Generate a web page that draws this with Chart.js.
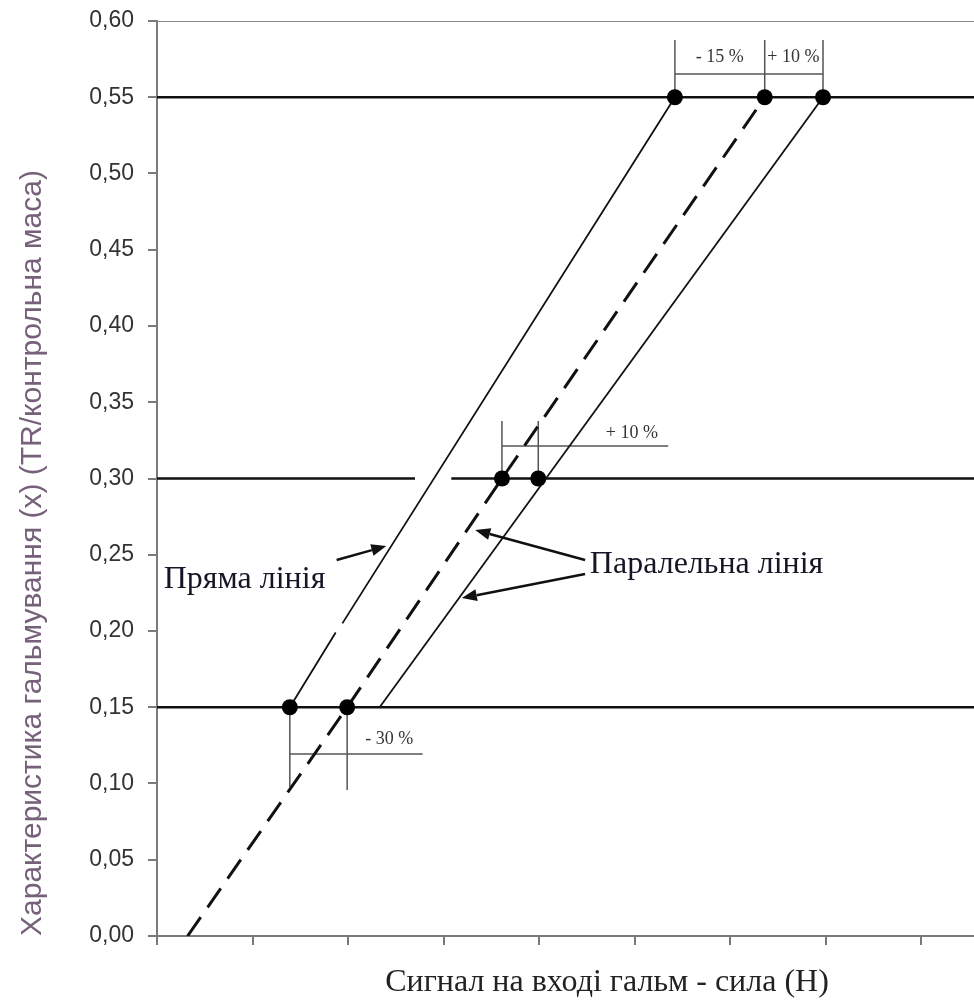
<!DOCTYPE html>
<html><head><meta charset="utf-8">
<script src="https://cdn.jsdelivr.net/npm/chart.js@4/dist/chart.umd.min.js"></script>
<style>html,body{margin:0;padding:0;background:#fff}#wrap{width:974px;height:1004px}</style>
</head><body><div id="wrap"><canvas id="c" width="974" height="1004"></canvas></div>
<script>
// ---- data ----
const xTicks = [0, 1, 2, 3, 4, 5, 6, 7, 8];
const yTicks = [0, 0.05, 0.10, 0.15, 0.20, 0.25, 0.30, 0.35, 0.40, 0.45, 0.50, 0.55, 0.60];
const xMin = 0, xMax = 8.55, yMin = 0, yMax = 0.6;

const levelLow  = [{x:0, y:0.15}, {x:8.55, y:0.15}];
const levelMid  = [{x:0, y:0.30}, {x:2.70, y:0.30}, {x:2.89, y:null}, {x:3.08, y:0.30}, {x:8.55, y:0.30}];
const levelHigh = [{x:0, y:0.55}, {x:8.55, y:0.55}];
const topBorder = [{x:0, y:0.60}, {x:8.55, y:0.60}];

const straightLine = [{x:1.39, y:0.15}, {x:1.87, y:0.199}, {x:1.90, y:null}, {x:1.94, y:0.205}, {x:5.42, y:0.55}];
const dashedLine   = [{x:0.32, y:0}, {x:1.99, y:0.15}, {x:3.61, y:0.30}, {x:6.36, y:0.55}];
const parallelLine = [{x:2.33, y:0.15}, {x:6.97, y:0.55}];
const markers = [{x:1.39, y:0.15}, {x:1.99, y:0.15}, {x:3.61, y:0.30}, {x:3.99, y:0.30},
                 {x:5.42, y:0.55}, {x:6.36, y:0.55}, {x:6.97, y:0.55}];

const bracketTop = [{x:5.42,y:0.55},{x:5.42,y:0.5875},{x:5.42,y:null},
                    {x:6.36,y:0.55},{x:6.36,y:0.5875},{x:6.36,y:null},
                    {x:6.97,y:0.55},{x:6.97,y:0.5875},{x:6.97,y:null},
                    {x:5.42,y:0.5652},{x:6.97,y:0.5652}];
const bracketMid = [{x:3.61,y:0.30},{x:3.61,y:0.3377},{x:3.61,y:null},
                    {x:3.99,y:0.30},{x:3.99,y:0.3377},{x:3.99,y:null},
                    {x:3.61,y:0.3213},{x:5.35,y:0.3213}];
const bracketLow = [{x:1.39,y:0.15},{x:1.39,y:0.0977},{x:1.39,y:null},
                    {x:1.99,y:0.15},{x:1.99,y:0.0957},{x:1.99,y:null},
                    {x:1.39,y:0.1193},{x:2.78,y:0.1193}];

const pctLabels = ['- 15 %', '+ 10 %', '+ 10 %', '- 30 %'];
const pctPos = [[5.89, 0.5764], [6.66, 0.5764], [4.97, 0.3298], [2.43, 0.1292]];
const lineLabels = ['Пряма лінія', 'Паралельна лінія'];
const lineLabelPos = [[0.07, 0.2334], [4.53, 0.2433]];
const arrows = [[[1.88, 0.2466], [2.40, 0.2557]],
                [[4.48, 0.2466], [3.33, 0.2662]],
                [[4.48, 0.2374], [3.19, 0.2216]]];

const yTitle = 'Характеристика гальмування (x) (TR/контрольна маса)';
const xTitle = 'Сигнал на вході гальм - сила (Н)';

// ---- drawing ----
const annot = {
  id: 'annot',
  afterDatasetsDraw(chart) {
    const ctx = chart.ctx, xs = chart.scales.x, ys = chart.scales.y;
    const px = v => xs.getPixelForValue(v), py = v => ys.getPixelForValue(v);
    ctx.save();
    ctx.fillStyle = '#333';
    ctx.font = '18px "Liberation Serif"';
    ctx.textAlign = 'center'; ctx.textBaseline = 'middle';
    pctLabels.forEach((t, i) => ctx.fillText(t, px(pctPos[i][0]), py(pctPos[i][1])));
    ctx.fillStyle = '#151525';
    ctx.font = '32px "Liberation Serif"';
    ctx.textAlign = 'left';
    lineLabels.forEach((t, i) => ctx.fillText(t, px(lineLabelPos[i][0]), py(lineLabelPos[i][1])));
    ctx.strokeStyle = '#111'; ctx.fillStyle = '#111'; ctx.lineWidth = 2.5;
    arrows.forEach(a => {
      const x1 = px(a[0][0]), y1 = py(a[0][1]), x2 = px(a[1][0]), y2 = py(a[1][1]);
      const ang = Math.atan2(y2 - y1, x2 - x1), L = 15, W = 6;
      const bx = x2 - L * Math.cos(ang), by = y2 - L * Math.sin(ang);
      ctx.beginPath(); ctx.moveTo(x1, y1); ctx.lineTo(bx, by); ctx.stroke();
      ctx.beginPath(); ctx.moveTo(x2, y2);
      ctx.lineTo(bx + W * Math.sin(ang), by - W * Math.cos(ang));
      ctx.lineTo(bx - W * Math.sin(ang), by + W * Math.cos(ang));
      ctx.closePath(); ctx.fill();
    });
    ctx.restore();
  },
  afterDraw(chart) {
    const ctx = chart.ctx;
    ctx.save();
    ctx.fillStyle = '#76607a';
    ctx.font = '30px "Liberation Sans"';
    ctx.textAlign = 'center'; ctx.textBaseline = 'middle';
    ctx.translate(33, 553); ctx.rotate(-Math.PI / 2);
    ctx.fillText(yTitle, 0, 0);
    ctx.restore();
    ctx.save();
    ctx.fillStyle = '#222';
    ctx.font = '32px "Liberation Serif"';
    ctx.textAlign = 'center'; ctx.textBaseline = 'middle';
    ctx.fillText(xTitle, 607, 983);
    ctx.restore();
  }
};

const ln = (data, extra) => Object.assign({data, showLine: true, pointRadius: 0, borderColor: '#111', borderWidth: 2, fill: false, spanGaps: false}, extra || {});
const noPad = s => { s.paddingTop = 0; s.paddingBottom = 0; s.paddingLeft = 0; s.paddingRight = 0; };

new Chart(document.getElementById('c'), {
  type: 'scatter',
  data: { datasets: [
    {data: markers, showLine: false, pointRadius: 8, pointBackgroundColor: '#000', pointBorderColor: '#000', pointBorderWidth: 0},
    ln(straightLine, {borderWidth: 1.8}),
    ln(dashedLine, {borderWidth: 3, borderDash: [23, 12]}),
    ln(parallelLine, {borderWidth: 1.8}),
    ln(levelLow, {borderWidth: 2.5}),
    ln(levelMid, {borderWidth: 2.5}),
    ln(levelHigh, {borderWidth: 2.5}),
    ln(topBorder, {borderWidth: 2, borderColor: '#8a8a8a'}),
    ln(bracketTop, {borderWidth: 1.5, borderColor: '#555'}),
    ln(bracketMid, {borderWidth: 1.5, borderColor: '#555'}),
    ln(bracketLow, {borderWidth: 1.5, borderColor: '#555'})
  ]},
  options: {
    responsive: false, animation: false,
    layout: {autoPadding: false, padding: {top: 21, right: 0, left: 0, bottom: 0}},
    plugins: {legend: {display: false}, tooltip: {enabled: false}},
    scales: {
      x: {
        type: 'linear', min: xMin, max: xMax,
        afterBuildTicks: s => { s.ticks = xTicks.map(v => ({value: v})); },
        afterFit: s => { s.height = 68; noPad(s); },
        ticks: {callback: () => '', padding: 0},
        grid: {drawOnChartArea: false, drawTicks: true, tickLength: 9, color: '#7a7a7a', lineWidth: 2},
        border: {display: true, color: '#7a7a7a', width: 2}
      },
      y: {
        type: 'linear', min: yMin, max: yMax,
        afterBuildTicks: s => { s.ticks = yTicks.map(v => ({value: v})); },
        afterFit: s => { s.width = 157; noPad(s); },
        ticks: {callback: v => v.toFixed(2).replace('.', ','), font: {family: 'Liberation Sans', size: 23}, color: '#333', padding: 14},
        grid: {drawOnChartArea: false, drawTicks: true, tickLength: 9, color: '#7a7a7a', lineWidth: 2},
        border: {display: true, color: '#7a7a7a', width: 2}
      }
    }
  },
  plugins: [annot]
});
</script></body></html>
